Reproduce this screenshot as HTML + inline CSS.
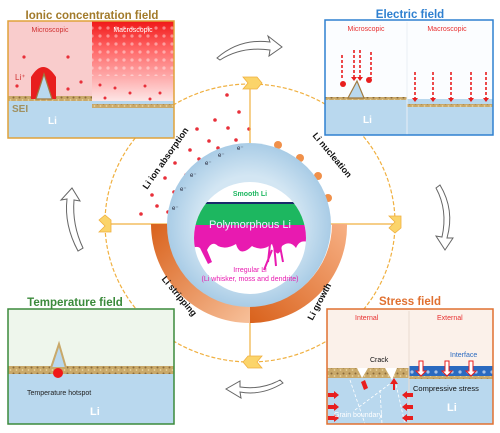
<!DOCTYPE html>
<html><head><meta charset="utf-8"><style>
html,body{margin:0;padding:0;background:#fff;width:500px;height:433px;overflow:hidden}
svg{display:block}
text{font-family:"Liberation Sans",Arial,sans-serif}
</style></head><body>
<svg width="500" height="433" viewBox="0 0 500 433">
<defs>
<linearGradient id="macroG" x1="0" y1="0" x2="0" y2="1"><stop offset="0" stop-color="#f01818"/><stop offset="0.35" stop-color="#f66"/><stop offset="1" stop-color="#fde6e6"/></linearGradient>
<linearGradient id="ringL" x1="0" y1="0" x2="1" y2="1"><stop offset="0" stop-color="#d9621c"/><stop offset="1" stop-color="#f7c09a"/></linearGradient>
<linearGradient id="ringR" x1="0" y1="1" x2="1" y2="0"><stop offset="0" stop-color="#d9621c"/><stop offset="1" stop-color="#f7b084"/></linearGradient>
<radialGradient id="blueD" cx="0.5" cy="0.5" r="0.5"><stop offset="0.6" stop-color="#d3e6f3"/><stop offset="1" stop-color="#a9cce6"/></radialGradient>
<clipPath id="innerClip"><circle cx="250" cy="238" r="56"/></clipPath>
<pattern id="sand" width="6" height="6" patternUnits="userSpaceOnUse"><rect width="6" height="6" fill="#c9a96a"/><circle cx="1.5" cy="1.5" r="1" fill="#8a6a3a"/><circle cx="4.5" cy="4" r="0.9" fill="#e8d3a0"/></pattern>
<pattern id="dots" width="8" height="8" patternUnits="userSpaceOnUse"><rect width="8" height="8" fill="none"/><circle cx="4" cy="4" r="1.6" fill="#fff" opacity="0.6"/></pattern>
</defs>

<!-- curved hollow arrows -->
<g fill="#fff" stroke="#666" stroke-width="1">
<path d="M217,58 Q240,38 270,42 L268,36 L282,47 L269,56 L270,50 Q242,46 220,60 Z"/>
<path d="M440,185 Q455,210 447,238 L453,238 L445,250 L436,236 L442,237 Q448,210 436,188 Z"/>
<path d="M283,383 Q262,396 240,392 L241,398 L226,389 L240,381 L240,387 Q262,390 280,380 Z"/>
<path d="M78,251 Q64,225 67,199 L61,200 L72,188 L80,201 L74,200 Q72,225 83,248 Z"/>
</g>

<!-- outer cycle circle -->
<ellipse cx="250" cy="223" rx="145" ry="139" fill="#fff" stroke="#f0b040" stroke-width="1.2" stroke-dasharray="4,2"/>
<!-- red dots upper-left quadrant -->
<g fill="#e8303a">
<circle cx="239" cy="112" r="1.8"/><circle cx="215" cy="120" r="1.8"/><circle cx="228" cy="128" r="1.8"/><circle cx="197" cy="129" r="1.8"/><circle cx="236" cy="140" r="1.8"/><circle cx="209" cy="141" r="1.8"/><circle cx="190" cy="150" r="1.8"/><circle cx="218" cy="148" r="1.8"/><circle cx="175" cy="163" r="1.8"/><circle cx="199" cy="159" r="1.8"/><circle cx="186" cy="175" r="1.8"/><circle cx="165" cy="178" r="1.8"/><circle cx="152" cy="195" r="1.8"/><circle cx="174" cy="192" r="1.8"/><circle cx="157" cy="206" r="1.8"/><circle cx="141" cy="214" r="1.8"/><circle cx="168" cy="212" r="1.8"/><circle cx="205" cy="180" r="1.8"/><circle cx="227" cy="95" r="1.8"/><circle cx="249" cy="129" r="1.8"/>
</g>
<!-- cross lines -->
<line x1="250" y1="84" x2="250" y2="362" stroke="#f0b040" stroke-width="1.2"/>
<line x1="105" y1="224" x2="395" y2="224" stroke="#f0b040" stroke-width="1.2"/>

<!-- orange ring lower half -->
<path d="M151,224 A99,99 0 0 0 250,323 L250,306 A82,82 0 0 1 168,224 Z" fill="url(#ringL)"/>
<path d="M250,323 A97,97 0 0 0 347,224 L332,224 A82,82 0 0 1 250,306 Z" fill="url(#ringR)"/>

<!-- nucleation bumps -->
<g fill="#f0904a">
<circle cx="278" cy="145" r="4"/><circle cx="300" cy="158" r="4"/><circle cx="318" cy="176" r="4"/><circle cx="328" cy="198" r="4"/>
</g>
<!-- blue disk -->
<circle cx="249" cy="225" r="82" fill="url(#blueD)"/>
<circle cx="250" cy="238" r="56" fill="#fff"/>
<g clip-path="url(#innerClip)">
<rect x="190" y="203" width="120" height="22" fill="#1db760"/>
<rect x="190" y="202" width="120" height="2" fill="#1a2a6a"/>
<path d="M190,225 H310 V243 Q300,238 296,248 Q290,240 282,246 Q278,262 272,244 Q262,252 252,246 Q240,258 236,244 Q226,250 218,246 Q212,240 207,250 L212,262 L208,264 L200,248 Q196,245 190,250 Z" fill="#e81ab0"/>
<path d="M270,244 L268,262 M274,244 L276,266 M272,250 L264,270 M280,246 L283,262" stroke="#e81ab0" stroke-width="2" fill="none"/>
</g>
<text x="250" y="196" font-size="7" font-weight="bold" fill="#1db760" text-anchor="middle">Smooth Li</text>
<text x="250" y="228" font-size="11" fill="#e8f4ff" text-anchor="middle">Polymorphous Li</text>
<text x="250" y="272" font-size="7" fill="#e81ab0" text-anchor="middle">Irregular Li</text>
<text x="250" y="281" font-size="7" fill="#e81ab0" text-anchor="middle">(Li whisker, moss and dendrite)</text>
<g font-size="6" fill="#223">
<text x="237" y="150">e⁻</text><text x="218" y="157">e⁻</text><text x="205" y="165">e⁻</text><text x="190" y="177">e⁻</text><text x="180" y="191">e⁻</text><text x="172" y="210">e⁻</text>
</g>

<!-- arc labels -->
<text transform="translate(168,160) rotate(-55)" font-size="9" font-weight="bold" fill="#111" text-anchor="middle">Li ion absorption</text>
<text transform="translate(330,157) rotate(50)" font-size="9" font-weight="bold" fill="#111" text-anchor="middle">Li nucleation</text>
<text transform="translate(177,298) rotate(50)" font-size="9" font-weight="bold" fill="#111" text-anchor="middle">Li stripping</text>
<text transform="translate(322,303) rotate(-62)" font-size="9" font-weight="bold" fill="#111" text-anchor="middle">Li growth</text>

<!-- chevron markers -->
<g fill="#fbd46a" stroke="#f0b040" stroke-width="0.8">
<path d="M243,77 L257,77 L262,83 L257,89 L243,89 L248,83 Z"/>
<path d="M389,216 L401,216 L401,228 L395,233 L389,228 L395,222 Z" transform="rotate(0)"/>
<path d="M262,356 L248,356 L243,362 L248,368 L262,368 L257,362 Z"/>
<path d="M99,232 L111,232 L111,220 L105,215 L99,220 L105,226 Z"/>
</g>

<!-- Ionic concentration field -->
<g>
<text x="92" y="19" font-size="11.5" font-weight="bold" fill="#a27a2a" text-anchor="middle">Ionic concentration field</text>
<rect x="8" y="21" width="84" height="117" fill="#f9cccc"/>
<rect x="92" y="21" width="82" height="80" fill="url(#macroG)"/>
<rect x="92" y="24" width="82" height="52" fill="url(#dots)" opacity="0.7"/>
<rect x="8" y="101" width="166" height="37" fill="#b9d8ee"/>
<rect x="8" y="96" width="84" height="5" fill="url(#sand)"/>
<rect x="92" y="104" width="82" height="4" fill="url(#sand)"/>
<path d="M31,99 V77 Q43,57 56,77 V99 Z" fill="#e81e1e"/>
<path d="M36,99 L44,74 L52,99 Z" fill="#b9d8ee" stroke="#a07a40" stroke-width="1.2"/>
<g fill="#e8303a"><circle cx="24" cy="57" r="1.6"/><circle cx="68" cy="57" r="1.6"/><circle cx="17" cy="86" r="1.6"/><circle cx="68" cy="89" r="1.6"/><circle cx="81" cy="82" r="1.6"/><circle cx="100" cy="85" r="1.5"/><circle cx="115" cy="88" r="1.5"/><circle cx="130" cy="93" r="1.5"/><circle cx="145" cy="86" r="1.5"/><circle cx="160" cy="93" r="1.5"/><circle cx="105" cy="98" r="1.5"/><circle cx="150" cy="99" r="1.5"/></g>
<text x="50" y="32" font-size="7" fill="#d03030" text-anchor="middle">Microscopic</text>
<text x="133" y="32" font-size="7" fill="#fff" text-anchor="middle">Macroscopic</text>
<text x="15" y="80" font-size="8" fill="#d03030">Li⁺</text>
<text x="12" y="112" font-size="10" fill="#a09060" font-weight="bold">SEI</text>
<text x="48" y="124" font-size="10" fill="#fff" font-weight="bold">Li</text>
<rect x="8" y="21" width="166" height="117" fill="none" stroke="#e0a23a" stroke-width="1.5"/>
</g>

<!-- Electric field -->
<g>
<text x="410" y="18" font-size="11.5" font-weight="bold" fill="#2f80d0" text-anchor="middle">Electric field</text>
<rect x="325" y="20" width="168" height="115" fill="#fbfdff"/>
<rect x="325" y="99" width="168" height="36" fill="#b9d8ee"/>
<rect x="325" y="97" width="82" height="3" fill="url(#sand)"/>
<rect x="407" y="104" width="86" height="3" fill="url(#sand)"/>
<path d="M348,98 L357,81 L364,98 Z" fill="#b9d8ee" stroke="#a07a40" stroke-width="1.2"/>
<line x1="407" y1="22" x2="407" y2="135" stroke="#e8eef5"/>
<g stroke="#e81e1e" stroke-width="1.6" stroke-dasharray="3,2" fill="none">
<line x1="354" y1="50" x2="354" y2="78"/><line x1="360" y1="50" x2="360" y2="78"/>
<line x1="342" y1="55" x2="342" y2="80"/><line x1="371" y1="52" x2="371" y2="78"/>
<line x1="415" y1="72" x2="415" y2="98"/><line x1="433" y1="72" x2="433" y2="98"/><line x1="451" y1="72" x2="451" y2="98"/><line x1="471" y1="72" x2="471" y2="98"/><line x1="486" y1="72" x2="486" y2="98"/>
</g>
<g fill="#e81e1e"><circle cx="343" cy="84" r="3"/><circle cx="369" cy="80" r="3"/>
<path d="M412,98 h6 l-3,4z M430,98 h6 l-3,4z M448,98 h6 l-3,4z M468,98 h6 l-3,4z M483,98 h6 l-3,4z M351,77 h6 l-3,4z M357,77 h6 l-3,4z"/></g>
<text x="366" y="31" font-size="7" fill="#e83030" text-anchor="middle">Microscopic</text>
<text x="447" y="31" font-size="7" fill="#e83030" text-anchor="middle">Macroscopic</text>
<text x="363" y="123" font-size="10" fill="#fff" font-weight="bold">Li</text>
<rect x="325" y="20" width="168" height="115" fill="none" stroke="#2f80d0" stroke-width="1.5"/>
</g>

<!-- Temperature field -->
<g>
<text x="75" y="306" font-size="11.5" font-weight="bold" fill="#3b8a3b" text-anchor="middle">Temperature field</text>
<rect x="8" y="309" width="166" height="115" fill="#eef6ec"/>
<rect x="8" y="372" width="166" height="52" fill="#b9d8ee"/>
<rect x="8" y="366" width="166" height="8" fill="url(#sand)"/>
<path d="M51,368 L59,344 L66,368 Z" fill="#b9d8ee" stroke="#c9a96a" stroke-width="2"/>
<circle cx="58" cy="373" r="5" fill="#f01818"/>
<text x="27" y="395" font-size="7" fill="#222">Temperature hotspot</text>
<text x="90" y="415" font-size="11" fill="#fff" font-weight="bold">Li</text>
<rect x="8" y="309" width="166" height="115" fill="none" stroke="#3b8a3b" stroke-width="1.5"/>
</g>

<!-- Stress field -->
<g>
<text x="410" y="305" font-size="11.5" font-weight="bold" fill="#e07030" text-anchor="middle">Stress field</text>
<rect x="327" y="309" width="166" height="115" fill="#fbf1ea"/>
<rect x="327" y="375" width="166" height="49" fill="#b9d8ee"/>
<rect x="327" y="368" width="82" height="10" fill="url(#sand)"/>
<rect x="409" y="366" width="84" height="10" fill="#2a6ac0"/>
<rect x="409" y="366" width="84" height="10" fill="url(#dots)"/>
<rect x="409" y="376" width="84" height="3" fill="url(#sand)"/>
<line x1="409" y1="311" x2="409" y2="424" stroke="#eadbd0"/>
<path d="M357,368 L362,378 L368,368 Z M385,368 L392,380 L397,368 Z" fill="#fff"/>
<g stroke="#fff" stroke-width="0.8" stroke-dasharray="3,2" fill="none"><line x1="350" y1="380" x2="365" y2="424"/><line x1="355" y1="410" x2="395" y2="380"/><line x1="380" y1="390" x2="382" y2="424"/><line x1="395" y1="380" x2="405" y2="424"/></g>
<g fill="#e81e1e"><path d="M361,382 l4,-2 l3,8 l-4,2z M393,384 l-3,0 l4,-6 l4,6 l-3,0 l0,6 l-2,0z"/>
<path d="M393,393 h6 v-2 l5,4 l-5,4 v-2 h-6z M393,405 h6 v-2 l5,4 l-5,4 v-2 h-6z M393,416 h6 v-2 l5,4 l-5,4 v-2 h-6z" transform="translate(806,0) scale(-1,1)"/>
<path d="M393,393 h6 v-2 l5,4 l-5,4 v-2 h-6z M393,405 h6 v-2 l5,4 l-5,4 v-2 h-6z M393,416 h6 v-2 l5,4 l-5,4 v-2 h-6z" transform="translate(-65,0)"/></g>
<g fill="#fff" stroke="#e81e1e" stroke-width="1"><path d="M419,361 h4 v10 h3 l-5,5 l-5,-5 h3z M445,361 h4 v10 h3 l-5,5 l-5,-5 h3z M469,361 h4 v10 h3 l-5,5 l-5,-5 h3z"/></g>
<text x="355" y="320" font-size="7" fill="#e83030">Internal</text>
<text x="437" y="320" font-size="7" fill="#e83030">External</text>
<text x="450" y="357" font-size="7" fill="#2a6ac0">Interface</text>
<text x="370" y="362" font-size="7" fill="#111">Crack</text>
<text x="413" y="391" font-size="7.5" fill="#111">Compressive stress</text>
<text x="447" y="411" font-size="11" fill="#fff" font-weight="bold">Li</text>
<text x="334" y="417" font-size="7" fill="#fff">Grain boundary</text>
<rect x="327" y="309" width="166" height="115" fill="none" stroke="#e07030" stroke-width="1.5"/>
</g>
</svg>
</body></html>
